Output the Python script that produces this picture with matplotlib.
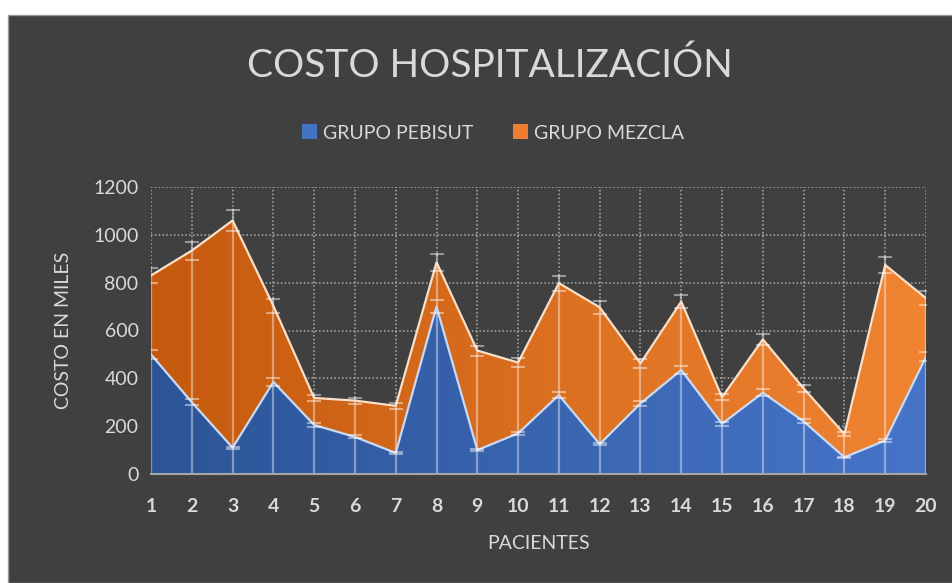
import numpy as np
import matplotlib
matplotlib.use("Agg")
import matplotlib.pyplot as plt
from matplotlib.patches import Rectangle, Patch
from matplotlib.colors import LinearSegmentedColormap

patients = list(range(1, 21))
pebisut = [500, 300, 110, 385, 205, 155, 88, 700, 100, 170, 330, 125, 295, 435, 210, 340, 220, 70, 140, 490]
mezcla = [330, 634, 950, 318, 113, 152, 197, 185, 416, 296, 468, 572, 168, 286, 111, 223, 138, 97, 734, 245]
y_ticks = [0, 200, 400, 600, 800, 1000, 1200]
err_pct = 0.04

plt.rcParams['font.family'] = ['Lato', 'DejaVu Sans']
TXT = '#D9D9D9'
BG = '#404040'

fig = plt.figure(figsize=(9.53, 5.83), dpi=100)
fig.patch.set_facecolor('white')
fig.add_artist(Rectangle((8/953, 0), 1, 1 - 15/583, transform=fig.transFigure,
                         facecolor=BG, edgecolor='#9a9a9a', linewidth=1, zorder=0))

ax = fig.add_axes([151/953, 1 - 474/583, (926-151)/953, (474-187)/583])
ax.set_facecolor(BG)
ax.patch.set_alpha(0)

x = np.array(patients, dtype=float)
b = np.array(pebisut, dtype=float)
m = np.array(mezcla, dtype=float)
tot = b + m

ax.set_xlim(1, 20)
ax.set_ylim(0, 1200)

ax.set_yticks(y_ticks)
ax.set_xticks(patients)
ax.grid(True, color='#B0B0B0', linestyle=(0, (1, 1.5)), linewidth=1.1, zorder=0)
ax.set_axisbelow(True)

def gradient_fill(y1, y0, c_left, c_right, z):
    poly = ax.fill_between(x, y0, y1, color='none', zorder=z)
    cmap = LinearSegmentedColormap.from_list('g', [c_left, c_right])
    grad = np.linspace(0, 1, 256).reshape(1, -1)
    im = ax.imshow(grad, cmap=cmap, aspect='auto', extent=[1, 20, 0, 1200],
                   zorder=z, interpolation='bicubic')
    path = poly.get_paths()[0]
    im.set_clip_path(path, transform=ax.transData)

gradient_fill(b, 0, '#2C5597', '#4674C8', 2)
gradient_fill(tot, b, '#C55A0E', '#F08433', 2)

ax.plot(x, b, color='#C9DAF5', linewidth=1.6, zorder=4)
ax.plot(x, tot, color='#FBE0C8', linewidth=1.6, zorder=4)

for xi, bi, ti in zip(x, b, tot):
    ax.plot([xi, xi], [0, ti + ti*err_pct], color='white', alpha=0.4, linewidth=1.6, zorder=3)
ax.errorbar(x, b, yerr=b*err_pct, fmt='none', ecolor='white', alpha=0.45,
            capsize=5, elinewidth=0, capthick=1.5, zorder=5)
ax.errorbar(x, tot, yerr=tot*err_pct, fmt='none', ecolor='white', alpha=0.45,
            capsize=5, elinewidth=0, capthick=1.5, zorder=5)

for s in ['top', 'right', 'left']:
    ax.spines[s].set_visible(False)
ax.spines['bottom'].set_color('#A6A6A6')
ax.spines['bottom'].set_linewidth(1.5)
ax.spines['bottom'].set_zorder(6)
ax.tick_params(axis='both', length=0)
ax.tick_params(axis='x', pad=17, labelsize=14, labelcolor=TXT)
ax.tick_params(axis='y', pad=9, labelsize=14, labelcolor=TXT)
for lab in ax.get_xticklabels():
    lab.set_fontweight('bold')

ax.set_xlabel('PACIENTES', fontsize=14, color=TXT, labelpad=15)
ax.set_ylabel('COSTO EN MILES', fontsize=14, color=TXT, labelpad=15)

fig.text(490/953, 1 - 66/583, 'COSTO HOSPITALIZACIÓN', ha='center', va='center',
         fontsize=28, color=TXT)

handles = [Patch(facecolor='#4472C4'), Patch(facecolor='#ED7D31')]
fig.legend(handles, ['GRUPO PEBISUT', 'GRUPO MEZCLA'], loc='center',
           bbox_to_anchor=(493/953, 1 - 133/583), ncol=2, frameon=False,
           fontsize=14, labelcolor=TXT, handlelength=0.8, handleheight=0.8,
           handletextpad=0.3, columnspacing=2.0)

fig.savefig('out.png', dpi=100)
